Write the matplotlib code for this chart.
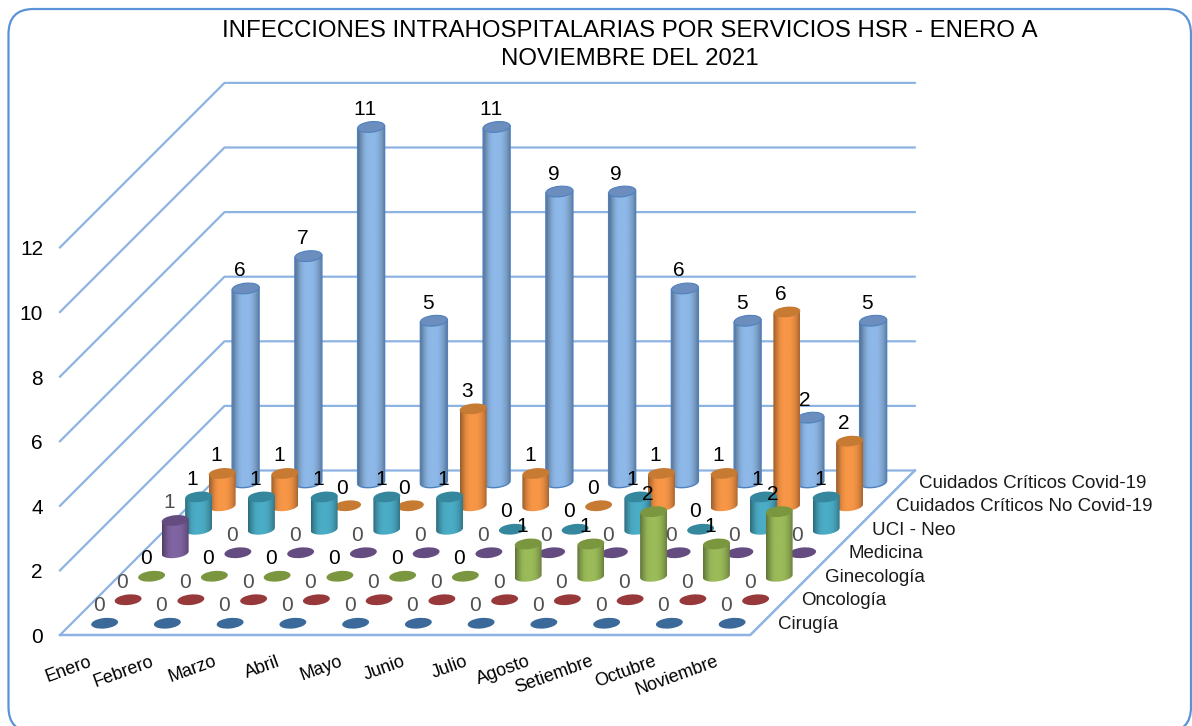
import numpy as np
import matplotlib
matplotlib.use("Agg")
import matplotlib.pyplot as plt
from matplotlib.patches import Ellipse, FancyBboxPatch, PathPatch
from matplotlib.path import Path

plt.rcParams['font.family'] = ['Liberation Sans', 'DejaVu Sans']
plt.rcParams['text.kerning_factor'] = 6

TITLE = "INFECCIONES INTRAHOSPITALARIAS POR SERVICIOS HSR - ENERO A\nNOVIEMBRE DEL 2021"
months = ["Enero", "Febrero", "Marzo", "Abril", "Mayo", "Junio", "Julio", "Agosto",
          "Setiembre", "Octubre", "Noviembre"]
series_names = ["Cirugía", "Oncología", "Ginecología", "Medicina", "UCI - Neo",
                "Cuidados Críticos No Covid-19", "Cuidados Críticos Covid-19"]
cirugia = [0, 0, 0, 0, 0, 0, 0, 0, 0, 0, 0]
oncologia = [0, 0, 0, 0, 0, 0, 0, 0, 0, 0, 0]
ginecologia = [0, 0, 0, 0, 0, 0, 1, 1, 2, 1, 2]
medicina = [1, 0, 0, 0, 0, 0, 0, 0, 0, 0, 0]
uci_neo = [1, 1, 1, 1, 1, 0, 0, 1, 0, 1, 1]
no_covid = [1, 1, 0, 0, 3, 1, 0, 1, 1, 6, 2]
covid = [6, 7, 11, 5, 11, 9, 9, 6, 5, 2, 5]
all_series = [cirugia, oncologia, ginecologia, medicina, uci_neo, no_covid, covid]
yticks = [0, 2, 4, 6, 8, 10, 12]

body_colors = ["#4F81BD", "#C0504D", "#9BBB59", "#8064A2", "#4BACC6", "#F79646", "#8DB8E8"]
top_colors = ["#3B6A9A", "#97393A", "#7A963F", "#644C80", "#35879E", "#C77A32", "#6C8EBF"]
label_colors = ["#505050", "#505050", "#000000", "#505050", "#000000", "#000000", "#000000"]
LINE = "#8DB3E2"
FRAME = "#5B93D8"

# oblique projection of (month, series depth, value) to figure pixels
X0, Y0 = 60.0, 635.0
MONTH_W = 62.75
DEPTH = 23.5
UNIT = 32.3
CYL_W = 27.0
CYL_H = 10.5
TILT = 6
CX_SHIFT = 1.5


def proj(m, s, v):
    return (X0 + MONTH_W * m + DEPTH * s, Y0 - DEPTH * s - UNIT * v)


fig = plt.figure(figsize=(11.92, 7.26), dpi=100)
ax = fig.add_axes([0, 0, 1, 1])
ax.set_axis_off()

# frame
ax.add_patch(FancyBboxPatch((8.5, 9), 1182.5, 723, boxstyle="round,pad=0,rounding_size=25",
                            fc="white", ec=FRAME, lw=1.6, zorder=0))

nm, ns = len(months), len(series_names)
# walls
for t in yticks:
    a, b, c = proj(0, 0, t), proj(0, ns, t), proj(nm, ns, t)
    ax.plot([a[0], b[0], c[0]], [a[1], b[1], c[1]], color=LINE, lw=1.6, zorder=1)
    ax.text(a[0] - 17, a[1] + 2.5, str(t), ha="right", va="center", fontsize=15, color="black")
# floor
f = [proj(0, 0, 0), proj(nm, 0, 0), proj(nm, ns, 0)]
ax.plot([p[0] for p in f], [p[1] for p in f], color=LINE, lw=1.8, zorder=1)

shade = np.array([0.62, 0.8, 0.95, 1.0, 1.0, 1.0, 0.95, 0.85, 0.68])
grad = np.linspace(0, 1, 64)
gradv = np.interp(grad, np.linspace(0, 1, len(shade)), shade)


def cylinder(cx, y_base, y_top, body, top, z, edge=None):
    w, h = CYL_W, CYL_H
    if y_base - y_top > 0.5:
        th = np.linspace(0, np.pi, 24)
        tilt = np.tan(np.radians(TILT))
        xs = cx + w / 2 * np.cos(th)
        ys = y_base + h / 2 * np.sin(th) - (xs - cx) * tilt
        verts = [(cx + w / 2, y_top - w / 2 * tilt)] + list(zip(xs, ys)) + [(cx - w / 2, y_top + w / 2 * tilt)]
        verts.append(verts[0])
        codes = [Path.MOVETO] + [Path.LINETO] * (len(verts) - 2) + [Path.CLOSEPOLY]
        patch = PathPatch(Path(verts, codes), fc="none", ec="none", zorder=z)
        ax.add_patch(patch)
        rgb = np.array(matplotlib.colors.to_rgb(body))
        img = np.outer(gradv, rgb).reshape(1, -1, 3)
        im = ax.imshow(img, extent=(cx - w / 2, cx + w / 2, y_base + h, y_top - h),
                       aspect="auto", interpolation="bilinear", zorder=z)
        im.set_clip_path(patch)
        if edge:
            ax.add_patch(PathPatch(Path(verts, codes), fc="none", ec=edge, lw=1.0, zorder=z + 0.1))
    ax.add_patch(Ellipse((cx, y_top), w, h, angle=-TILT, fc=top, ec=edge or top, lw=0.8 if edge else 0,
                         zorder=z + 0.2))


z = 10.0
for s in range(ns - 1, -1, -1):
    for m in range(nm):
        v = all_series[s][m]
        cx, yb = proj(m + 0.5, s + 0.5, 0)
        _, yt = proj(m + 0.5, s + 0.5, v)
        cx += CX_SHIFT
        cylinder(cx, yb, yt, body_colors[s], top_colors[s], z,
                 edge="#4F81BD" if s == ns - 1 else None)
        ax.text(cx - 6, yt - 17.5, str(v), ha="center", va="center", fontsize=15,
                color=label_colors[s], zorder=100)
        z += 1

# month labels
for m, name in enumerate(months):
    x, y = proj(m + 0.5, 0, 0)
    ax.text(x - 0.5, y + 26, name, rotation=20, rotation_mode="anchor", ha="right", va="center",
            fontsize=13, color="black", zorder=100)

# depth labels
for s, name in enumerate(series_names):
    x, y = proj(nm, s + 0.5, 0)
    ax.text(x + 16, y + 1, name, ha="left", va="center", fontsize=13.5, color="#1a1a1a", zorder=100)

ax.text(630, 45, TITLE, ha="center", va="center", fontsize=17.3, color="black", linespacing=1.3, zorder=100)

ax.set_xlim(0, 1192)
ax.set_ylim(726, 0)
fig.savefig("out.png", dpi=100)
